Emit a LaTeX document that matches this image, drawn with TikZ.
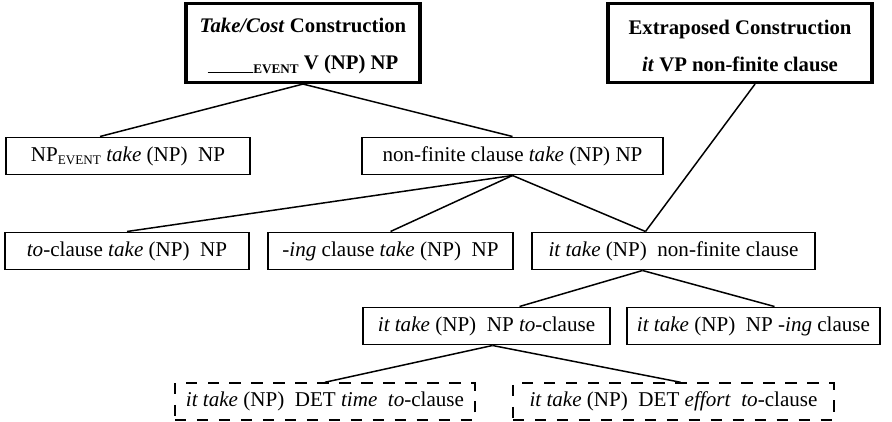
\documentclass[tikz,border=0pt]{standalone}
\usepackage{fontspec}
\setmainfont{Liberation Serif}
\usetikzlibrary{calc, positioning}

\tikzset{
  cbox/.style={draw, line width=0.85pt, inner sep=0pt, align=center, font=\fontsize{12}{14}\selectfont, minimum height=0.75cm},
  topbox/.style={cbox, line width=1.8pt, minimum height=1.58cm, font=\fontsize{11.8}{21}\selectfont\bfseries},
  dashbox/.style={cbox, dash pattern=on 6.5pt off 6pt, minimum height=0.74cm},
  link/.style={line width=0.85pt}
}
\newcommand{\evsub}{\raisebox{-0.35ex}{\fontsize{7.5}{8}\selectfont EVENT}}

\begin{document}
\begin{tikzpicture}[x=0.02cm, y=-0.02cm]
		\useasboundingbox (0,0) rectangle (892,422);
		% top constructions
		\node[topbox, minimum width=4.68cm] (costbox) at (303,43) {\rule{0pt}{12pt}\textit{Take/Cost} Construction\\ \rule[-0.3ex]{2.2em}{0.5pt}\evsub{} V (NP) NP};
		\node[topbox, minimum width=5.28cm] (extrabox) at (740,43) {\rule{0pt}{12pt}Extraposed Construction\\ \textit{it} VP non-finite clause};
		
		% level 2
		\node[cbox, minimum width=4.88cm] (npevent) at (128,156) {NP\evsub{} \textit{take} (NP) ~NP};
		\node[cbox, minimum width=6.02cm] (nonfin) at (512.5,156) {non-finite clause \textit{take} (NP) NP};
		\draw[link] (costbox.south) -- ($(npevent.north)+(-28,0)$); \draw[link] (costbox.south) -- (nonfin.north);
		
		% level 3
		\node[cbox, minimum width=4.88cm] (toclause) at (127,251) {\textit{to}-clause \textit{take} (NP) ~NP};
		\node[cbox, minimum width=4.9cm] (ingclause) at (390.5,251) {\textit{-ing} clause \textit{take} (NP) ~NP};
		\node[cbox, minimum width=5.66cm] (itnonfin) at (673.5,251) {\textit{it take} (NP) ~non-finite clause};
		\draw[link] (nonfin.south) -- (toclause.north); \draw[link] (nonfin.south) -- (ingclause.north);
		\draw[link] (nonfin.south) -- ($(itnonfin.north)+(-28,0)$);
		\draw[link] ($(extrabox.south)+(15,0)$) -- ($(itnonfin.north)+(-28,0)$);
		
		% level 4
		\node[cbox, minimum width=4.94cm] (ittoclause) at (486.5,326) {\textit{it take} (NP) ~NP \textit{to}-clause};
		\node[cbox, minimum width=5.06cm] (itingclause) at (753.5,326) {\textit{it take} (NP) ~NP \textit{-ing} clause};
		\draw[link] ($(itnonfin.south)+(-31,0)$) -- ($(ittoclause.north)+(33,0)$); \draw[link] ($(itnonfin.south)+(-31,0)$) -- ($(itingclause.north)+(21,0)$);
		
		% level 5, dashed
		\node[dashbox, minimum width=6cm] (timebox) at (325,401.5) {\textit{it take} (NP) ~DET \textit{time} ~\textit{to}-clause};
		\node[dashbox, minimum width=6.42cm] (effortbox) at (673.5,401.5) {\textit{it take} (NP) ~DET \textit{effort} ~\textit{to}-clause};
		\draw[link] ($(ittoclause.south)+(6,0)$) -- (timebox.north); \draw[link] ($(ittoclause.south)+(6,0)$) -- ($(effortbox.north)+(7,0)$);
	\end{tikzpicture}
\end{document}
